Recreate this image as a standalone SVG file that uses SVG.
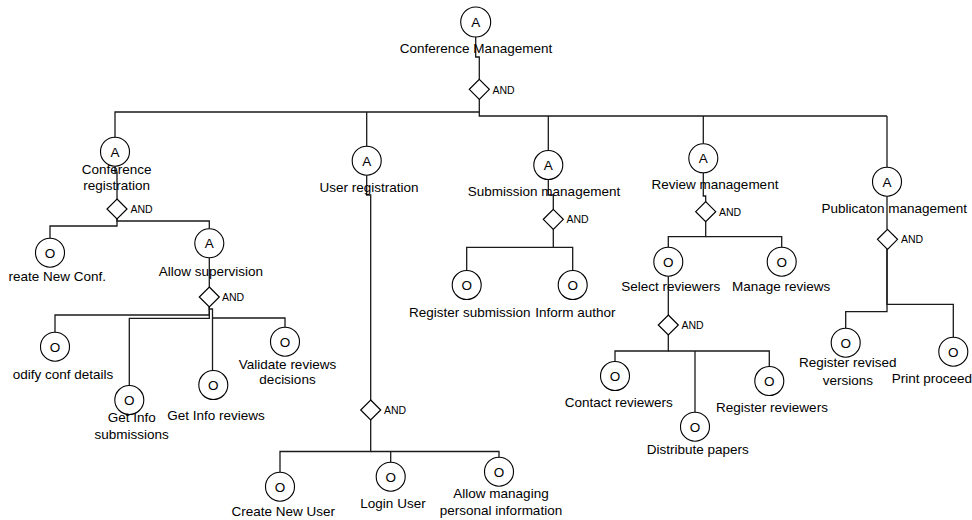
<svg xmlns="http://www.w3.org/2000/svg" width="972" height="520" viewBox="0 0 972 520">
<style>
.c{fill:#fff;stroke:#000;stroke-width:1.1}
.d{fill:#fff;stroke:#000;stroke-width:1.2}
.l{fill:none;stroke:#1a1a1a;stroke-width:1.3}
text{font-family:"Liberation Sans",Arial,sans-serif;fill:#000}
.t{font-size:13.5px;text-anchor:middle}
.s{font-size:13.5px}
.k{font-size:13.5px;text-anchor:middle}
.a{font-size:10.5px}
</style>
<rect width="972" height="520" fill="#fff"/>
<g id="connectors">
<path class="l" d="M475.7,37 V57 H479.3 V79.3"/>
<path class="l" d="M479.3,99.3 V116 H887"/>
<path class="l" d="M479.3,112 H115 V137.2"/>
<path class="l" d="M366.7,112 V146.2"/>
<path class="l" d="M548.3,116 V150.5"/>
<path class="l" d="M703.3,116 V143.8"/>
<path class="l" d="M887,116 V167.2"/>
<path class="l" d="M115,166.2 V172 H117 V199"/>
<path class="l" d="M117,219 V226 H50 V238.2"/>
<path class="l" d="M117,219 V221 H209.3 V228.8"/>
<path class="l" d="M209.3,257.8 V287"/>
<path class="l" d="M209.3,307 V315 H55 V332.2"/>
<path class="l" d="M209.3,307 V318.3 H129.3 V385.5"/>
<path class="l" d="M209.3,307 V309 H212.5 V370.5"/>
<path class="l" d="M212.5,318 H285 V327.2"/>
<path class="l" d="M366.7,175.2 V195 H370.7 V400"/>
<path class="l" d="M370.7,420 V451.5 H280 V472.2"/>
<path class="l" d="M370.7,451.5 H499 V457.2"/>
<path class="l" d="M390.7,451.5 V462.2"/>
<path class="l" d="M548.3,179.5 V195 H553.3 V209.3"/>
<path class="l" d="M553.3,229.3 V247.3 H466.7 V270.5"/>
<path class="l" d="M553.3,247.3 H572.7 V270.5"/>
<path class="l" d="M703.3,172.8 V196 H705.7 V201.7"/>
<path class="l" d="M705.7,221.7 V236.7 H668.3 V247.2"/>
<path class="l" d="M705.7,236.7 H781.7 V247.2"/>
<path class="l" d="M668.3,276.2 V315"/>
<path class="l" d="M668.3,335 V351 H615 V361.5"/>
<path class="l" d="M668.3,351 H769.3 V366.5"/>
<path class="l" d="M695,351 V412.2"/>
<path class="l" d="M887,196.2 V229.3"/>
<path class="l" d="M887,249.3 V304.3 H953.3 V337.2"/>
<path class="l" d="M887,249.3 V311.7 H845.7 V328.2"/>
</g>
<g id="and-gates">
<g id="and-root"><path class="d" d="M479.3,79.3 L489.3,89.3 L479.3,99.3 L469.3,89.3 Z"/><text class="a" x="492.5" y="93.5">AND</text></g>
<g id="and-confreg"><path class="d" d="M117,199 L127,209 L117,219 L107,209 Z"/><text class="a" x="130.5" y="213">AND</text></g>
<g id="and-allowsup"><path class="d" d="M209.3,287 L219.3,297 L209.3,307 L199.3,297 Z"/><text class="a" x="222" y="301">AND</text></g>
<g id="and-userreg"><path class="d" d="M370.7,400 L380.7,410 L370.7,420 L360.7,410 Z"/><text class="a" x="384" y="414">AND</text></g>
<g id="and-submission"><path class="d" d="M553.3,209.3 L563.3,219.3 L553.3,229.3 L543.3,219.3 Z"/><text class="a" x="566.5" y="223.3">AND</text></g>
<g id="and-review"><path class="d" d="M705.7,201.7 L715.7,211.7 L705.7,221.7 L695.7,211.7 Z"/><text class="a" x="719" y="215.7">AND</text></g>
<g id="and-select"><path class="d" d="M668.3,315 L678.3,325 L668.3,335 L658.3,325 Z"/><text class="a" x="681.5" y="329">AND</text></g>
<g id="and-publication"><path class="d" d="M887.5,229.3 L897.5,239.3 L887.5,249.3 L877.5,239.3 Z"/><text class="a" x="901" y="243.3">AND</text></g>
</g>
<g id="n-conf-mgmt"><circle class="c" cx="475.7" cy="22" r="15"/><text class="t" x="475.7" y="27">A</text><text class="t" x="476" y="52.5">Conference Management</text></g>
<g id="n-conf-reg"><circle class="c" cx="115" cy="151.7" r="14.5"/><text class="t" x="115" y="156.7">A</text><text class="t" x="116.7" y="174">Conference</text><text class="t" x="116.7" y="189.5">registration</text></g>
<g id="n-create-conf"><circle class="c" cx="50" cy="252.7" r="14.5"/><text class="t" x="50" y="257.7">O</text><text class="s" x="106" y="281.2" text-anchor="end">reate New Conf.</text></g>
<g id="n-allow-sup"><circle class="c" cx="209.3" cy="243.3" r="14.5"/><text class="t" x="209.3" y="248.3">A</text><text class="t" x="210.8" y="276">Allow supervision</text></g>
<g id="n-modify"><circle class="c" cx="55" cy="346.7" r="14.5"/><text class="t" x="55" y="351.7">O</text><text class="s" x="12.7" y="378.5">odify conf details</text></g>
<g id="n-getinfo-sub"><circle class="c" cx="129.3" cy="400" r="14.5"/><text class="t" x="129.3" y="405">O</text><text class="t" x="131.7" y="422">Get Info</text><text class="t" x="131.7" y="438.8">submissions</text></g>
<g id="n-getinfo-rev"><circle class="c" cx="213.3" cy="385" r="14.5"/><text class="t" x="213.3" y="390">O</text><text class="t" x="216" y="419.5">Get Info reviews</text></g>
<g id="n-validate"><circle class="c" cx="285" cy="341.7" r="14.5"/><text class="t" x="285" y="346.7">O</text><text class="t" x="287.5" y="368.5">Validate reviews</text><text class="t" x="287.5" y="384">decisions</text></g>
<g id="n-user-reg"><circle class="c" cx="366.7" cy="160.7" r="14.5"/><text class="t" x="366.7" y="165.7">A</text><text class="t" x="369" y="192">User registration</text></g>
<g id="n-create-user"><circle class="c" cx="280" cy="486.7" r="14.5"/><text class="t" x="280" y="491.7">O</text><text class="t" x="283.3" y="516">Create New User</text></g>
<g id="n-login"><circle class="c" cx="390.7" cy="476.7" r="14.5"/><text class="t" x="390.7" y="481.7">O</text><text class="t" x="393" y="508">Login User</text></g>
<g id="n-manage-info"><circle class="c" cx="499" cy="471.7" r="14.5"/><text class="t" x="499" y="476.7">O</text><text class="t" x="501" y="497.8">Allow managing</text><text class="t" x="501" y="514.5">personal information</text></g>
<g id="n-submission"><circle class="c" cx="548.3" cy="165" r="14.5"/><text class="t" x="548.3" y="170">A</text><text class="t" x="544" y="196">Submission management</text></g>
<g id="n-reg-sub"><circle class="c" cx="466.7" cy="285" r="14.5"/><text class="t" x="466.7" y="290">O</text><text class="t" x="469.7" y="317">Register submission</text></g>
<g id="n-inform"><circle class="c" cx="572.7" cy="285" r="14.5"/><text class="t" x="572.7" y="290">O</text><text class="t" x="575.3" y="317">Inform author</text></g>
<g id="n-review"><circle class="c" cx="703.3" cy="158.3" r="14.5"/><text class="t" x="703.3" y="163.3">A</text><text class="t" x="715" y="189">Review management</text></g>
<g id="n-select"><circle class="c" cx="668.3" cy="261.7" r="14.5"/><text class="t" x="668.3" y="266.7">O</text><text class="t" x="670.8" y="291">Select reviewers</text></g>
<g id="n-manage-rev"><circle class="c" cx="781.7" cy="261.7" r="14.5"/><text class="t" x="781.7" y="266.7">O</text><text class="t" x="781.2" y="291">Manage reviews</text></g>
<g id="n-contact"><circle class="c" cx="615" cy="376" r="14.5"/><text class="t" x="615" y="381">O</text><text class="t" x="618.8" y="407">Contact reviewers</text></g>
<g id="n-distribute"><circle class="c" cx="695" cy="426.7" r="14.5"/><text class="t" x="695" y="431.7">O</text><text class="t" x="697.7" y="454">Distribute papers</text></g>
<g id="n-reg-rev"><circle class="c" cx="769.3" cy="381" r="14.5"/><text class="t" x="769.3" y="386">O</text><text class="t" x="772" y="412">Register reviewers</text></g>
<g id="n-publication"><circle class="c" cx="887" cy="181.7" r="14.5"/><text class="t" x="887" y="186.7">A</text><text class="t" x="894.3" y="213">Publicaton management</text></g>
<g id="n-revised"><circle class="c" cx="845.7" cy="342.7" r="14.5"/><text class="t" x="845.7" y="347.7">O</text><text class="t" x="847.8" y="367">Register revised</text><text class="t" x="847.8" y="384.5">versions</text></g>
<g id="n-print"><circle class="c" cx="953.3" cy="351.7" r="14.5"/><text class="t" x="953.3" y="356.7">O</text><text class="s" x="891.7" y="383">Print proceed</text></g>
</svg>
